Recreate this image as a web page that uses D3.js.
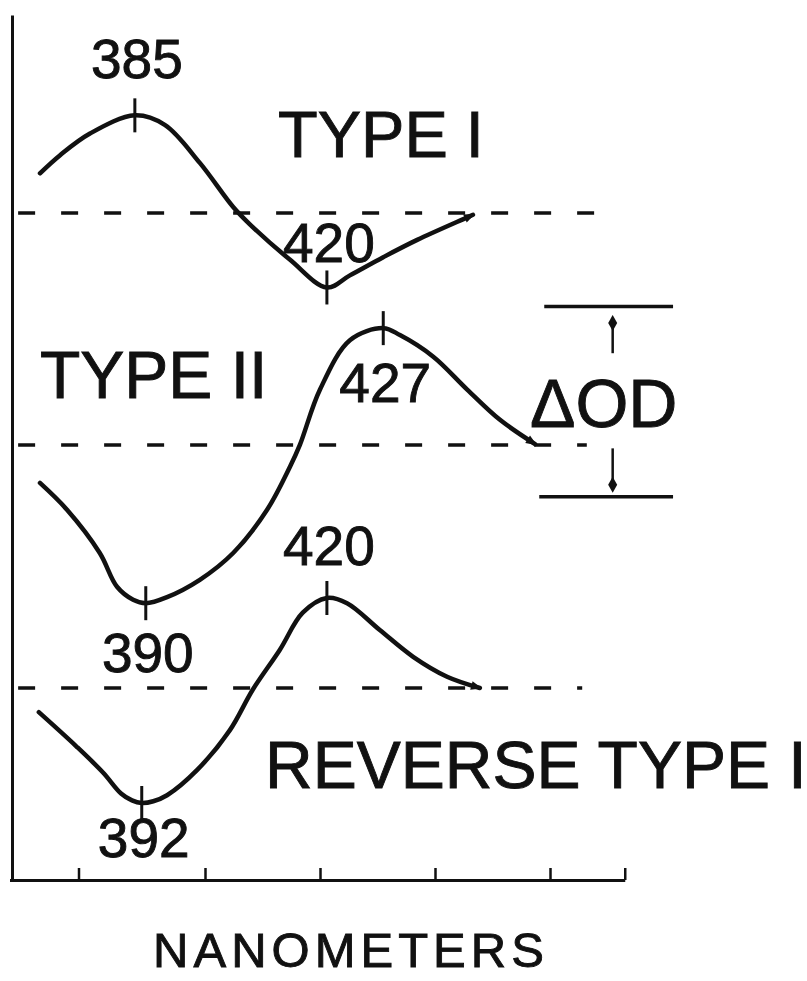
<!DOCTYPE html>
<html>
<head>
<meta charset="utf-8">
<script src="https://cdn.jsdelivr.net/npm/d3@7"></script>
<style>
body { margin: 0; background: #fff; }
svg text { font-family: 'Liberation Sans', Arial, sans-serif; fill: #111; stroke: #111; stroke-width: 0.9px; }
</style>
</head>
<body>
<div class="content"></div>
<script>
var width = 807
var height = 981

// wavelength (nm), change in OD measured from the curve's own baseline
var typeI = [[371.3, 4.6], [374.8, 6.7], [380, 9.2], [387.8, 11.3], [393, 10.2], [399.1, 5.8],
    [404.9, 0.7], [407.8, -1.3], [414.8, -5.4], [421.2, -8.6], [425.2, -7.2], [431, -5.1],
    [436.9, -3.1], [445.6, -0.5], [446.6, -0.2]]
var typeII = [[371.3, -4.4], [376, -7.5], [381.7, -12.5], [384.7, -16.4], [387.5, -17.9],
    [389.7, -18.3], [393.4, -17.6], [399.1, -15.6], [404.9, -12.5], [410.8, -7.5], [414.8, -2.5],
    [416.5, 0], [420, 6.4], [425.2, 12.1], [431, 13.5], [433.9, 12.7], [439.7, 10.2],
    [445.6, 6.4], [451.3, 2.9], [457.4, 0.1]]
var reverseI = [[371.1, -2.8], [377.7, -6.8], [382.3, -9.8], [385.4, -12.2], [387.3, -13.0],
    [389, -13.3], [391, -13.1], [393.4, -12.4], [398.6, -9.5], [404.3, -4.9], [408.3, -0.2],
    [413, 4.4], [417, 8.7], [421.2, 10.4], [424.7, 9.8], [430.4, 6.7], [436.2, 3.6],
    [442.1, 1.3], [447.8, 0]]

// marked extrema: wavelength position on the curve, printed label
var typeIMarks = [[387.8, '385'], [421.2, '420']]
var typeIIMarks = [[389.7, '390'], [431, '427']]
var reverseMarks = [[389, '392'], [421.2, '420']]

var curveNames = ['TYPE I', 'TYPE II', 'REVERSE TYPE I']
var baselines = [77.1, 50.3, 22.2]
var baselineEnds = [469.6, 466.4, 465.6]
var baselineStart = 367.5

var axisTicks = [378, 400, 420, 440, 460, 473]
var odBracket = [16, -6]
var odBracketNm = [459, 481.4]

var x = d3.scaleLinear().domain([366, 473]).range([9.5, 624.75])
var y = d3.scaleLinear().domain([0, 100]).range([880, 15])

var svg = d3.select('.content').append('svg')
    .attr('width', width)
    .attr('height', height)

var defs = svg.append('defs')
defs.append('marker')
    .attr('id', 'head')
    .attr('viewBox', '0 0 10 10')
    .attr('refX', 8).attr('refY', 5)
    .attr('markerUnits', 'userSpaceOnUse')
    .attr('markerWidth', 15).attr('markerHeight', 11)
    .attr('orient', 'auto')
    .append('path')
    .attr('d', 'M0,1L10,5L0,9Z')
    .attr('fill', '#111')
defs.append('marker')
    .attr('id', 'diamond')
    .attr('viewBox', '0 0 16 10')
    .attr('refX', 8).attr('refY', 5)
    .attr('markerUnits', 'userSpaceOnUse')
    .attr('markerWidth', 16).attr('markerHeight', 10)
    .attr('orient', 'auto')
    .append('path')
    .attr('d', 'M0,5L8,0.5L16,5L8,9.5Z')
    .attr('fill', '#111')

// axes
svg.append('g')
    .attr('transform', 'translate(0,880)')
    .call(d3.axisBottom(x).tickValues(axisTicks).tickSize(-12).tickSizeOuter(0).tickFormat(''))
    .call(function(g) {
        g.select('.domain').attr('stroke', '#111').attr('stroke-width', 3)
        g.selectAll('.tick line').attr('stroke', '#111').attr('stroke-width', 2.5)
    })

svg.append('g')
    .attr('transform', 'translate(12,0)')
    .call(d3.axisLeft(y).tickValues([]).tickSizeOuter(0))
    .call(function(g) {
        g.select('.domain').attr('stroke', '#111').attr('stroke-width', 3)
    })

// dashed baselines
svg.append('g')
    .selectAll('line')
    .data(baselines)
    .enter().append('line')
    .attr('x1', x(baselineStart))
    .attr('x2', function(d, i) { return x(baselineEnds[i]) })
    .attr('y1', function(d) { return y(d) })
    .attr('y2', function(d) { return y(d) })
    .attr('stroke', '#111')
    .attr('stroke-width', 3.5)
    .attr('stroke-dasharray', '17,26')

var curves = [typeI, typeII, reverseI]
var marks = [typeIMarks, typeIIMarks, reverseMarks]
// label baseline offset from the marked point (px)
var labelDy = [[-37, -25], [69, 74], [54, -33]]

curves.forEach(function(data, i) {
    var base = baselines[i]
    var line = d3.line()
        .x(function(d) { return x(d[0]) })
        .y(function(d) { return y(base + d[1]) })
        .curve(d3.curveCatmullRom.alpha(0.5))

    svg.append('path')
        .datum(data)
        .attr('d', line)
        .attr('fill', 'none')
        .attr('stroke', '#111')
        .attr('stroke-width', 4.5)
        .attr('stroke-linecap', 'round')
        .attr('marker-end', 'url(#head)')

    marks[i].forEach(function(m, j) {
        var pt = data.find(function(d) { return d[0] === m[0] })
        var px = x(pt[0])
        var py = y(base + pt[1])
        svg.append('line')
            .attr('x1', px).attr('x2', px)
            .attr('y1', py - 17).attr('y2', py + 17)
            .attr('stroke', '#111')
            .attr('stroke-width', 3)
        svg.append('text')
            .attr('x', px + 2)
            .attr('y', py + labelDy[i][j])
            .attr('text-anchor', 'middle')
            .attr('font-size', 55)
            .text(m[1])
    })
})

// curve names
var namePos = [[278, 157, 65], [40, 398, 66], [265, 788, 66]]
svg.append('g')
    .selectAll('text')
    .data(curveNames)
    .enter().append('text')
    .attr('x', function(d, i) { return namePos[i][0] })
    .attr('y', function(d, i) { return namePos[i][1] })
    .attr('font-size', function(d, i) { return namePos[i][2] })
    .text(function(d) { return d })

// delta OD bracket
var b = baselines[1]
svg.append('g')
    .selectAll('line')
    .data(odBracket)
    .enter().append('line')
    .attr('x1', function(d, i) { return x(odBracketNm[0]) - i * 5 })
    .attr('x2', x(odBracketNm[1]))
    .attr('y1', function(d) { return y(b + d) })
    .attr('y2', function(d) { return y(b + d) })
    .attr('stroke', '#111')
    .attr('stroke-width', 3.5)

var arrowX = x(470.9)
svg.append('line')
    .attr('x1', arrowX).attr('x2', arrowX)
    .attr('y1', y(b + 10.6)).attr('y2', y(b + 14.1))
    .attr('stroke', '#111').attr('stroke-width', 2.5)
    .attr('marker-end', 'url(#diamond)')
svg.append('line')
    .attr('x1', arrowX).attr('x2', arrowX)
    .attr('y1', y(b - 0.4)).attr('y2', y(b - 4.6))
    .attr('stroke', '#111').attr('stroke-width', 2.5)
    .attr('marker-end', 'url(#diamond)')

svg.append('text')
    .attr('x', 530)
    .attr('y', 427)
    .attr('font-size', 68)
    .text('\u0394OD')

svg.append('text')
    .attr('x', 351)
    .attr('y', 967)
    .attr('text-anchor', 'middle')
    .attr('font-size', 49)
    .attr('letter-spacing', 5)
    .text('NANOMETERS')
</script>
</body>
</html>
